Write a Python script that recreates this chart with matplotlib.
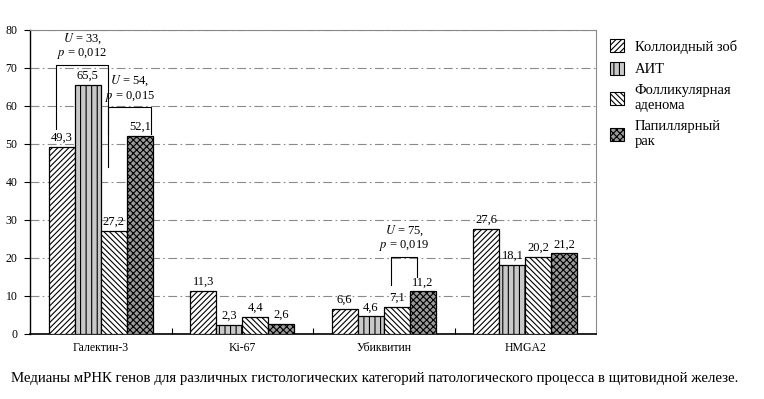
import numpy as np
import matplotlib.pyplot as plt
from matplotlib.patches import Patch

plt.rcParams['font.family'] = ['Liberation Serif', 'DejaVu Serif']
plt.rcParams['mathtext.fontset'] = 'stix'
plt.rcParams['hatch.linewidth'] = 0.8

# данные
genes = ['Галектин-3', 'Ki-67', 'Убиквитин', 'HMGA2']
series = ['Коллоидный зоб', 'АИТ', 'Фолликулярная\nаденома', 'Папиллярный\nрак']
kolloid = [49.3, 11.3, 6.6, 27.6]
ait = [65.5, 2.3, 4.6, 18.1]
follic = [27.2, 4.4, 7.1, 20.2]
papill = [52.1, 2.6, 11.2, 21.2]
values = [kolloid, ait, follic, papill]

# скобки: группа, столбец a, столбец b, верх, низ ноги a, низ ноги b, текст
brackets = [
    (0, 0, 2, 70.8, 54.0, 52.6, '$U$ = 33,\n$p$ = 0,012'),
    (0, 2, 3, 59.6, 44.0, 52.6, '$U$ = 54,\n$p$ = 0,015'),
    (2, 2, 3, 20.3, 12.9, 15.0, '$U$ = 75,\n$p$ = 0,019'),
]

hatches = ['//////', '|||', '\\\\\\\\\\\\', 'xxxxx']
faces = ['white', '#c8c8c8', 'white', '#9a9a9a']

fig = plt.figure(figsize=(7.64, 3.99), dpi=100)
ax = fig.add_axes([0.0393, 0.163, 0.741, 0.762])

x = np.arange(len(genes))
w = 0.184
offs = (np.arange(4) - 1.5) * w

for i in range(4):
    bars = ax.bar(x + offs[i], values[i], w, color=faces[i], edgecolor='black',
                  hatch=hatches[i], linewidth=0.9, label=series[i], zorder=3)
    for b, v in zip(bars, values[i]):
        ax.text(b.get_x() + b.get_width() / 2, v + 0.8, f'{v:.1f}'.replace('.', ','),
                ha='center', va='bottom', fontsize=9, zorder=4)

for g, a, b, top, ya, yb, txt in brackets:
    xa = g + offs[a] - 0.04
    xb = g + offs[b] + (0.08 if b == 3 and a == 2 and g == 0 else -0.04)
    ax.plot([xa, xa, xb, xb], [ya, top, top, yb], color='black', lw=0.8, zorder=4)
    ax.text((xa + xb) / 2, top + 1.0, txt, ha='center', va='bottom', fontsize=9,
            linespacing=1.05, zorder=4)

ax.set_xlim(-0.5, 3.5)
ax.set_ylim(0, 80)
ax.set_yticks(range(0, 81, 10))
ax.tick_params(axis='y', labelsize=8.5, direction='out', length=4, width=0.8, pad=5)
ax.set_xticks(x)
ax.set_xticklabels(genes, fontsize=8.5)
ax.tick_params(axis='x', length=0, pad=6)
ax.set_xticks(np.arange(0.5, 3.5, 1), minor=True)
ax.tick_params(axis='x', which='minor', direction='in', length=4, width=0.8)

ax.grid(axis='y', color='#8a8a8a', lw=0.8, linestyle=(0, (8, 3, 1.5, 3)), zorder=0)
ax.spines['left'].set_linewidth(1.0)
ax.spines['bottom'].set_linewidth(1.2)
ax.spines['top'].set_color('#8a8a8a')
ax.spines['right'].set_color('#8a8a8a')

handles = [Patch(facecolor=faces[i], edgecolor='black', hatch=hatches[i], lw=0.8)
           for i in range(4)]
fig.legend(handles, series, loc='upper left', bbox_to_anchor=(0.781, 0.935),
           frameon=False, fontsize=10.5, handlelength=1.0, handleheight=1.0,
           handletextpad=0.7, labelspacing=0.55)

fig.text(0.015, 0.042, 'Медианы мРНК генов для различных гистологических категорий '
         'патологического процесса в щитовидной железе.', fontsize=10.7)

fig.savefig('out.png', dpi=100)
